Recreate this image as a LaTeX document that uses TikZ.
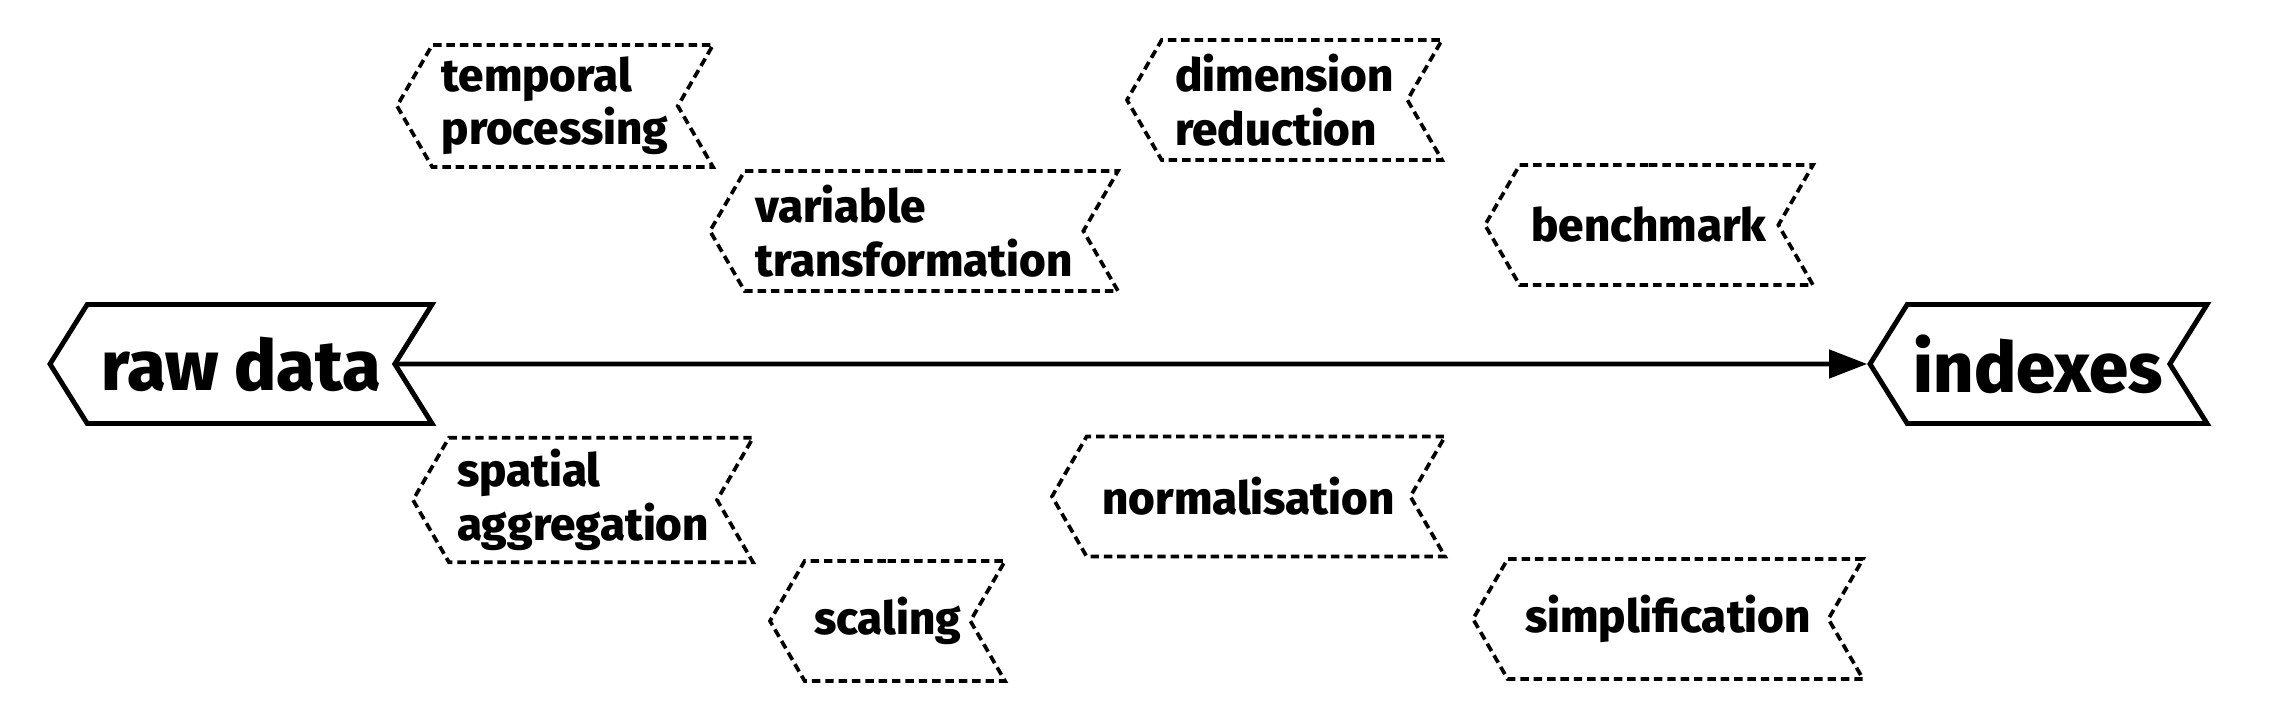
\documentclass[tikz,border=0pt]{standalone}
\usepackage{fontspec}
\setmainfont{Fira Sans}[BoldFont={Fira Sans ExtraBold}]
\usetikzlibrary{shapes.symbols,arrows.meta}
\begin{document}
\begin{tikzpicture}
[stepdecorate/.style={shape=signal,signal to=west,signal from=east,
  signal pointer angle=120,draw,dash pattern=on 2.4pt off 1.4pt,line width=1.05pt,
  minimum height=1.2cm,inner xsep=0pt,align=left,
  font=\fontsize{13}{15.2}\selectfont\bfseries},%
  enddecorate/.style={shape=signal,signal to=west,signal from=east,
  signal pointer angle=116,draw,line width=1.4pt,minimum height=1.19cm,
  inner xsep=0pt,font=\fontsize{20}{24}\selectfont\bfseries},%
  linedecorate/.style={-{Triangle[length=0.38cm,width=0.28cm]},line width=1.3pt}]
\useasboundingbox (0,0) rectangle (22.87,7.10);
%% start and end of the chain
\node (raw) at (2.41,3.46) [enddecorate,minimum width=3.82cm] {raw data};
\node (idx) at (20.385,3.46) [enddecorate,minimum width=3.37cm] {indexes};
%% processing steps
\foreach \nodename/\x/\y/\w/\label in {
  temporal/5.55/6.04/3.16/{temporal\\processing},
  variable/9.14/4.79/4.08/{variable\\transformation},
  dimension/12.845/6.10/3.15/{dimension\\reduction},
  benchmark/16.49/4.85/3.28/{benchmark},
  spatial/5.83/2.10/3.40/{spatial\\aggregation},
  scaling/8.875/0.89/2.35/{scaling},
  normal/12.485/2.135/3.93/{normalisation},
  simple/16.68/0.91/3.90/{simplification}} {
  \node (\nodename) at (\x,\y) [stepdecorate,minimum width=\w cm] {\label};
}
%% main line
\draw[linedecorate] (raw) -- (idx);
\end{tikzpicture}
\end{document}
